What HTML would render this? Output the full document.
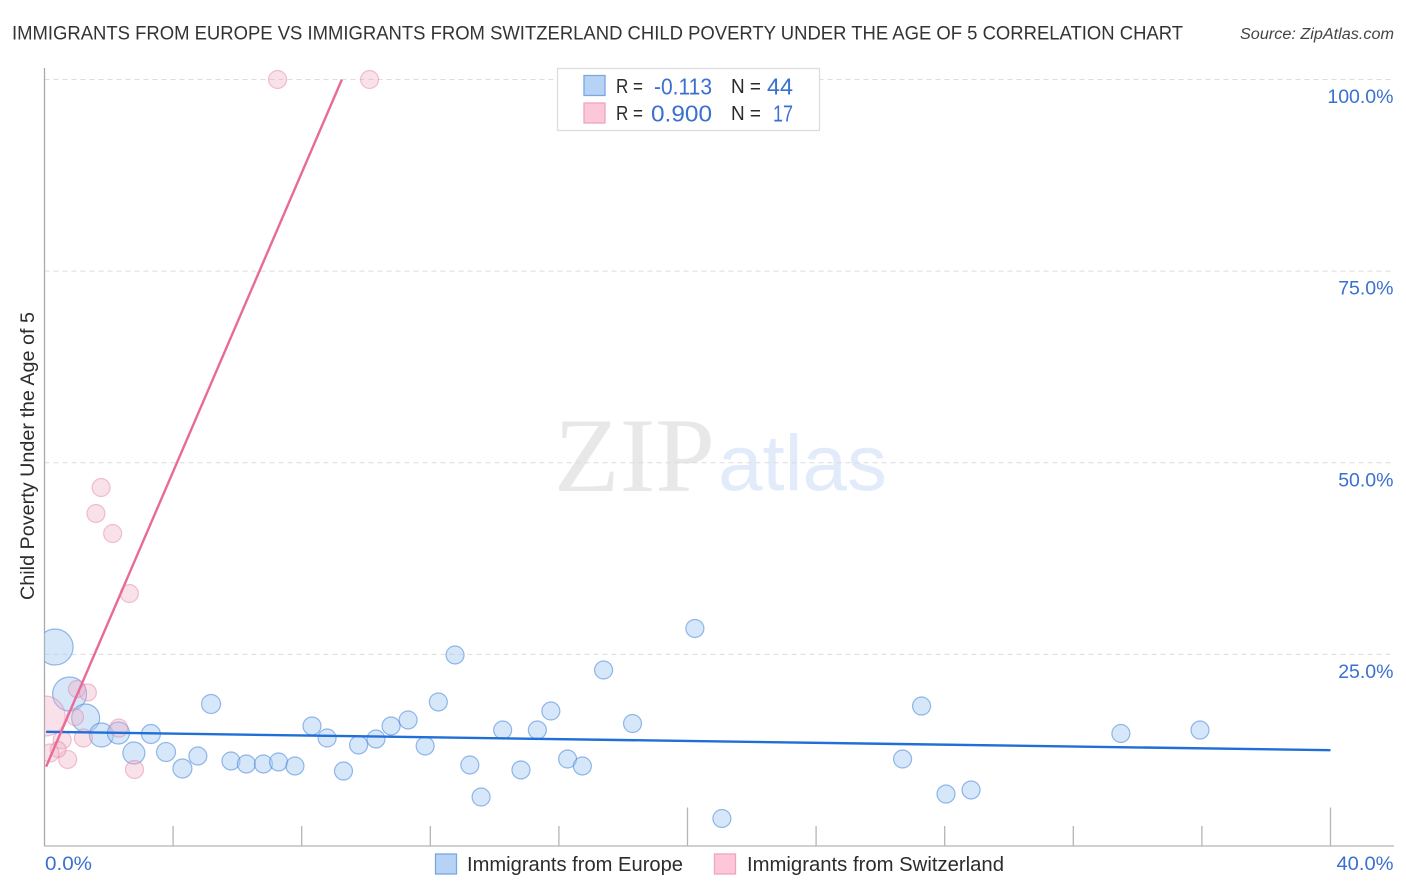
<!DOCTYPE html>
<html lang="en">
<head>
<meta charset="utf-8">
<title>Immigrants from Europe vs Immigrants from Switzerland Child Poverty Correlation Chart</title>
<style>
html,body{margin:0;padding:0;background:#fff;width:1406px;height:892px;overflow:hidden}
svg{display:block;font-family:"Liberation Sans",sans-serif}
.tick-label{fill:#3a70cf;font-size:19.5px}
.legend-text{fill:#2c2c2c;font-size:20px}
.legend-value{fill:#3a70cf;font-size:23px}
</style>
</head>
<body>
<svg id="chart" xmlns="http://www.w3.org/2000/svg" width="1406" height="892" viewBox="0 0 1406 892">
  <defs>
    <clipPath id="plot-clip"><rect x="44.5" y="60" width="1350" height="786"/></clipPath>
  </defs>
  <rect x="0" y="0" width="1406" height="892" fill="#fff"/>

  <text x="12" y="39.5" font-size="19.5" fill="#333" textLength="1171" lengthAdjust="spacingAndGlyphs">IMMIGRANTS FROM EUROPE VS IMMIGRANTS FROM SWITZERLAND CHILD POVERTY UNDER THE AGE OF 5 CORRELATION CHART</text>
  <text x="1394" y="39" font-size="15.5" font-style="italic" fill="#444" text-anchor="end" textLength="154" lengthAdjust="spacingAndGlyphs">Source: ZipAtlas.com</text>

  <g id="watermark">
    <text x="554" y="491" font-family="'Liberation Serif',serif" font-size="106" fill="#e8e8e8" textLength="161" lengthAdjust="spacingAndGlyphs">ZIP</text>
    <text x="718" y="490" font-size="79" fill="#e2ebfa" textLength="169" lengthAdjust="spacingAndGlyphs">atlas</text>
  </g>

  <g id="grid"></g>
  <g id="x-ticks"></g>

  <line x1="44.5" y1="68" x2="44.5" y2="846.5" stroke="#aaa" stroke-width="1.3"/>
  <line x1="44" y1="846" x2="1394" y2="846" stroke="#b5b5b5" stroke-width="1.3"/>

  <g id="points" clip-path="url(#plot-clip)"></g>
  <g id="trends"></g>
  <g id="y-labels"></g>

  <text class="tick-label" x="45" y="870" textLength="47" lengthAdjust="spacingAndGlyphs">0.0%</text>
  <text class="tick-label" x="1393.5" y="870" text-anchor="end" textLength="57" lengthAdjust="spacingAndGlyphs">40.0%</text>
  <text transform="translate(34,456) rotate(-90)" font-size="19" fill="#2c2c2c" text-anchor="middle" textLength="288" lengthAdjust="spacingAndGlyphs">Child Poverty Under the Age of 5</text>

  <g id="stats-legend">
    <rect x="557.5" y="68.5" width="262" height="62" fill="#fff" stroke="#ddd" stroke-width="1.3"/>
    <rect x="584" y="75.5" width="21" height="20" fill="#b6d2f5" stroke="#7aa7e2" stroke-width="1.3"/>
    <rect x="584" y="103" width="21" height="20" fill="#fcc7d8" stroke="#f0a3bc" stroke-width="1.3"/>
    <text class="legend-text" x="616" y="93" textLength="27" lengthAdjust="spacingAndGlyphs">R =</text>
    <text class="legend-value" x="654" y="94.5" textLength="58" lengthAdjust="spacingAndGlyphs">-0.113</text>
    <text class="legend-text" x="731" y="93" textLength="30" lengthAdjust="spacingAndGlyphs">N =</text>
    <text class="legend-value" x="767" y="94.5" textLength="26" lengthAdjust="spacingAndGlyphs">44</text>
    <text class="legend-text" x="616" y="120" textLength="27" lengthAdjust="spacingAndGlyphs">R =</text>
    <text class="legend-value" x="651" y="121.5" textLength="61" lengthAdjust="spacingAndGlyphs">0.900</text>
    <text class="legend-text" x="731" y="120" textLength="30" lengthAdjust="spacingAndGlyphs">N =</text>
    <text class="legend-value" x="773" y="121.5" textLength="20" lengthAdjust="spacingAndGlyphs">17</text>
  </g>

  <g id="bottom-legend">
    <rect x="435.5" y="854" width="21" height="20" fill="#b6d2f5" stroke="#7aa7e2" stroke-width="1.3"/>
    <text class="legend-text" x="467" y="871" textLength="216" lengthAdjust="spacingAndGlyphs">Immigrants from Europe</text>
    <rect x="714.5" y="854" width="21" height="20" fill="#fcc7d8" stroke="#f0a3bc" stroke-width="1.3"/>
    <text class="legend-text" x="747" y="871" textLength="257" lengthAdjust="spacingAndGlyphs">Immigrants from Switzerland</text>
  </g>
</svg>
<script>
const europeX = [0.33,0.78,1.28,1.77,2.30,3.31,2.78,3.78,4.29,4.77,5.18,5.80,6.28,6.81,7.28,7.79,8.32,8.79,9.30,9.77,10.31,10.78,11.31,11.84,12.25,12.77,13.23,13.58,14.25,14.82,15.33,15.75,16.27,16.73,17.39,18.29,20.23,21.07,26.69,27.28,28.04,28.82,33.48,35.94];
const europeY = [25.96,19.83,16.70,14.48,14.74,14.61,12.13,12.26,10.11,11.74,18.53,11.09,10.70,10.70,10.96,10.44,15.66,14.09,9.78,13.18,13.96,15.66,16.44,13.05,18.79,24.92,10.57,6.39,15.13,9.92,15.13,17.61,11.35,10.44,22.96,15.98,28.38,3.59,11.35,18.26,6.78,7.31,14.68,15.13];
const europeWeight = [324,289,196,144,121,90,121,90,90,81,90,81,81,81,81,81,81,81,81,81,81,81,81,81,81,81,81,81,81,81,81,81,81,81,81,81,81,81,81,81,81,81,81,81];
const swissX = [7.25,10.11,1.76,1.60,2.12,2.64,1.01,1.35,0.02,0.95,1.21,2.31,2.80,0.72,0.55,0.42,0.17];
const swissY = [100,100,46.77,43.38,40.77,32.94,20.48,20.03,16.96,16.83,14.09,15.39,9.98,11.29,13.83,12.59,12.13];
const swissWeight = [81,81,81,81,81,81,72,72,400,72,81,81,81,81,81,64,81];
const europeTrendX = [0.05,40];
const europeTrendY = [14.9,12.5];
const swissTrendX = [0.05,9.25];
const swissTrendY = [10.35,100];
const yTicks = [25,50,75,100];
const yTickLabels = ['25.0%','50.0%','75.0%','100.0%'];
const xTicks = [0,4,8,12,16,20,24,28,32,36,40];
const xMajorTicks = [20,40];

const NS = 'http://www.w3.org/2000/svg';
const xScale = v => 44.5 + v * 32.15;
const yScale = v => 846 - v * 7.665;

function make(tag, attrs, parent) {
  const el = document.createElementNS(NS, tag);
  for (const k in attrs) el.setAttribute(k, attrs[k]);
  parent.appendChild(el);
  return el;
}

const grid = document.getElementById('grid');
const yLabels = document.getElementById('y-labels');
yTicks.forEach((t, i) => {
  const gl = make('line', {x1: 44.5, x2: 1393, y1: yScale(t), y2: yScale(t), stroke: '#dcdcdc', 'stroke-width': 1, 'stroke-dasharray': '5 4'}, grid);
  
  
  const lb = make('text', {x: 1393.5, y: yScale(t) + 23.5, 'text-anchor': 'end', class: 'tick-label'}, yLabels);
  lb.textContent = yTickLabels[i];
  
  
});

const xTickGroup = document.getElementById('x-ticks');
xTicks.forEach(t => {
  if (t === 0) return;
  const top = xMajorTicks.includes(t) ? 807.5 : 826;
  const tk = make('line', {x1: xScale(t), x2: xScale(t), y1: top, y2: 846, stroke: '#b5b5b5', 'stroke-width': 1.3}, xTickGroup);
  
  
});

const pts = document.getElementById('points');
function drawSeries(xs, ys, ws, fill, stroke, name) {
  xs.forEach((x, i) => {
    const c = make('circle', {cx: xScale(x), cy: yScale(ys[i]), r: Math.sqrt(ws[i]), fill: fill, stroke: stroke, 'stroke-width': 1.2}, pts);
    
    
  });
}
drawSeries(europeX, europeY, europeWeight, 'rgba(170,205,245,0.48)', 'rgba(70,130,215,0.55)', 'europe');
drawSeries(swissX, swissY, swissWeight, 'rgba(240,175,198,0.38)', 'rgba(228,130,165,0.48)', 'switzerland');

const trends = document.getElementById('trends');
const blueTrend = make('line', {x1: xScale(europeTrendX[0]), y1: yScale(europeTrendY[0]), x2: xScale(europeTrendX[1]), y2: yScale(europeTrendY[1]), stroke: '#1f6fd6', 'stroke-width': 2.4}, trends);


const pinkTrend = make('line', {x1: xScale(swissTrendX[0]), y1: yScale(swissTrendY[0]), x2: xScale(swissTrendX[1]), y2: yScale(swissTrendY[1]), stroke: '#e86a98', 'stroke-width': 2.4}, trends);


</script>
</body>
</html>
